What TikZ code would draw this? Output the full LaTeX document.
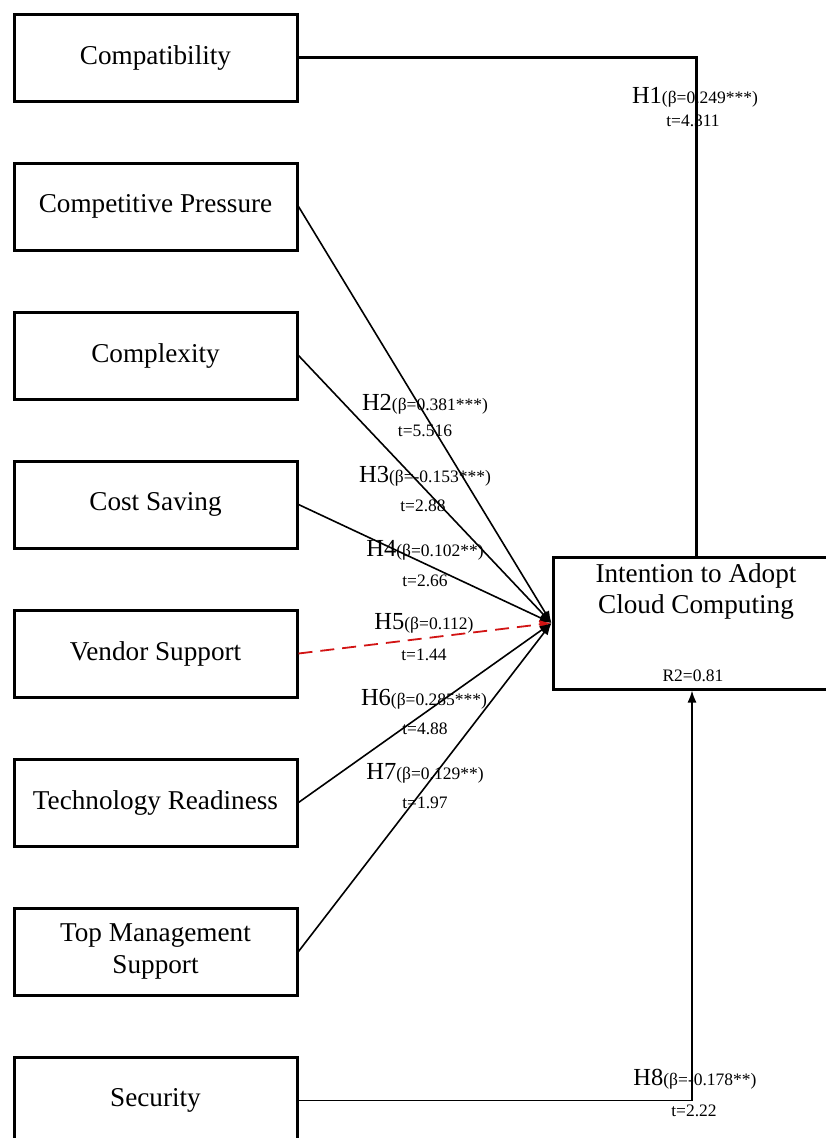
\documentclass[tikz,border=0pt]{standalone}
\usepackage{fontspec}
\setmainfont{Liberation Serif}
\usetikzlibrary{arrows.meta}
\definecolor{dred}{RGB}{210,20,20}
\newcommand{\hbig}{\fontsize{24.5}{26}\selectfont}
\newcommand{\hsmall}{\fontsize{17.5}{19}\selectfont}
\begin{document}
\begin{tikzpicture}[x=1pt,y=-1pt,
  leftbox/.style={draw, line width=3pt, minimum width=283pt, minimum height=87pt,
    font=\fontsize{27.2}{32}\selectfont, align=center, inner sep=2pt},
  tgtbox/.style={draw, line width=3pt, minimum width=286pt, minimum height=132pt},
  title/.style={font=\fontsize{27.2}{31}\selectfont, align=center, inner sep=0pt},
  lab/.style={font=\hsmall, inner sep=0pt},
  conn/.style={line width=1.6pt, -{Latex[length=12pt,width=9pt]}},
  weak/.style={line width=1.8pt, dred, dash pattern=on 14pt off 8pt, -{Latex[length=12pt,width=9pt]}},
  thickconn/.style={line width=3pt},
]
\clip (0,0) rectangle (826,1138);
\fill[white] (0,0) rectangle (826,1138);

% left constructs
\node[leftbox] (c1) at (155.5,57.5) {Compatibility};
\node[leftbox] (c2) at (155.5,206.5) {Competitive Pressure};
\node[leftbox] (c3) at (155.5,355.5) {Complexity};
\node[leftbox] (c4) at (155.5,504.5) {Cost Saving};
\node[leftbox] (c5) at (155.5,653.5) {Vendor Support};
\node[leftbox] (c6) at (155.5,802.5) {Technology Readiness};
\node[leftbox] (c7) at (155.5,951.5) {Top Management\\Support};
\node[leftbox] (c8) at (155.5,1100.5) {Security};

% target
\node[tgtbox] (tgt) at (696,623) {};
\node[title] (ttl) at (696,591) {Intention to Adopt\\Cloud Computing};
\node[lab] (r2) at (693,676) {R2=0.81};

% connectors
\draw[thickconn] (c1.east) -| (tgt.north);
\draw[conn] (c2.east) -- (tgt.west);
\draw[conn] (c3.east) -- (tgt.west);
\draw[conn] (c4.east) -- (tgt.west);
\draw[weak] (c5.east) -- (tgt.west);
\draw[conn] (c6.east) -- (tgt.west);
\draw[conn] (c7.east) -- (tgt.west);
\draw[conn] (c8.east) -| ([xshift=-4pt]tgt.south);

% labels
\node[lab] (h1) at (695,97) {{\hbig H1}(β=0.249***)};
\node[lab] (t1) at (693,121) {t=4.311};
\node[lab] (h2) at (425,404) {{\hbig H2}(β=0.381***)};
\node[lab] (t2) at (425,431) {t=5.516};
\node[lab] (h3) at (425,476) {{\hbig H3}(β=-0.153***)};
\node[lab] (t3) at (423,506) {t=2.88};
\node[lab] (h4) at (425,550) {{\hbig H4}(β=0.102**)};
\node[lab] (t4) at (425,581) {t=2.66};
\node[lab] (h5) at (424,623) {{\hbig H5}(β=0.112)};
\node[lab] (t5) at (424,655) {t=1.44};
\node[lab] (h6) at (424,699) {{\hbig H6}(β=0.285***)};
\node[lab] (t6) at (425,729) {t=4.88};
\node[lab] (h7) at (425,773) {{\hbig H7}(β=0.129**)};
\node[lab] (t7) at (425,803) {t=1.97};
\node[lab] (h8) at (695,1079) {{\hbig H8}(β=-0.178**)};
\node[lab] (t8) at (694,1111) {t=2.22};
\end{tikzpicture}
\end{document}
